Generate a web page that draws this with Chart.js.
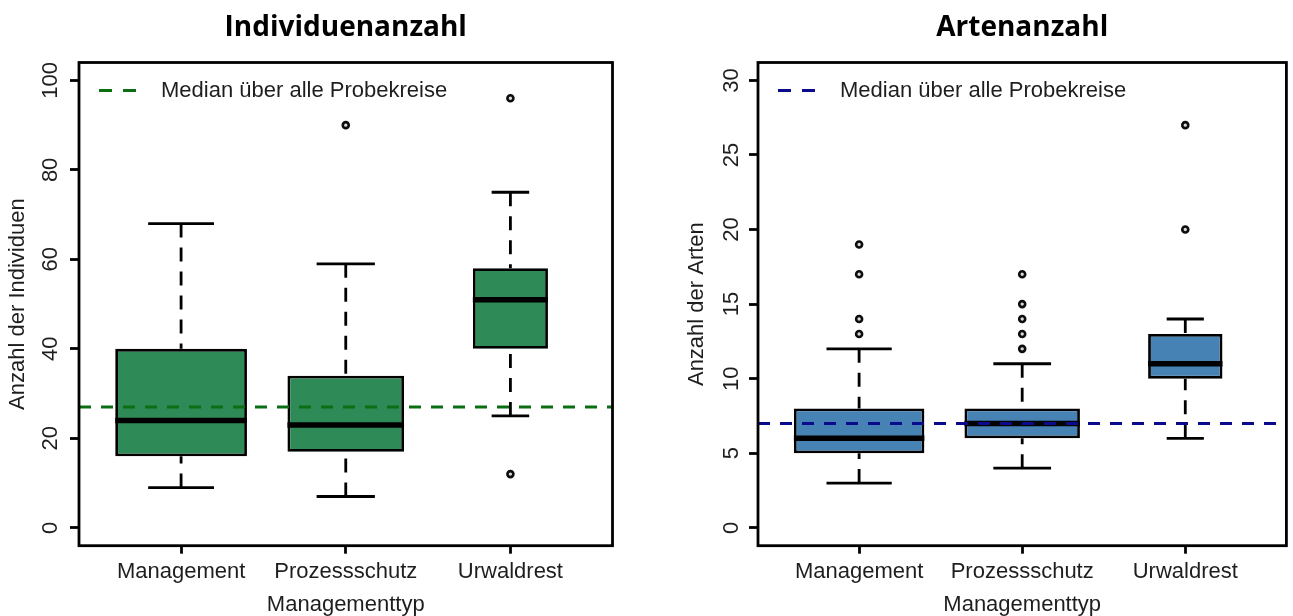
<!DOCTYPE html>
<html lang="de">
<head>
<meta charset="utf-8">
<title>Individuen- und Artenanzahl nach Managementtyp</title>
<script src="https://cdn.jsdelivr.net/npm/chart.js@4/dist/chart.umd.min.js"></script>
<style>
  html, body { margin: 0; padding: 0; background: #fff; overflow: hidden; }
  #wrap { position: relative; width: 1293px; height: 616px; background: #fff; }
  canvas { position: absolute; top: 0; }
  #cInd { left: 0; }
  #cArt { left: 679px; }
</style>
</head>
<body>
<div id="wrap">
  <canvas id="cInd" width="679" height="616"></canvas>
  <canvas id="cArt" width="614" height="616"></canvas>
</div>
<script>
// ---- data -------------------------------------------------------------
const categories = ['Management', 'Prozessschutz', 'Urwaldrest'];

// Individuenanzahl: whisker ends, quartiles and medians per Managementtyp
const indLower    = [9, 7, 25];
const indQ1       = [16, 17, 40];
const indMedian   = [24, 23, 51];
const indQ3       = [40, 34, 58];
const indUpper    = [68, 59, 75];
const indOutliers = [[], [90], [96, 12]];
const indOverallMedian = 27;
const indTicks    = [0, 20, 40, 60, 80, 100];

// Artenanzahl
const artLower    = [3, 4, 6];
const artQ1       = [5, 6, 10];
const artMedian   = [6, 7, 11];
const artQ3       = [8, 8, 13];
const artUpper    = [12, 11, 14];
const artOutliers = [[13, 14, 17, 19], [12, 13, 14, 15, 17], [20, 27]];
const artOverallMedian = 7;
const artTicks    = [0, 5, 10, 15, 20, 25, 30];

const legendLabel = 'Median über alle Probekreise';
const xTitle = 'Managementtyp';

// ---- style ------------------------------------------------------------
const FONT = '"Liberation Sans", Arial, Helvetica, sans-serif';
const TITLE_FONT = '"Open Sans", "Liberation Sans", Arial, sans-serif';
const TEXT = '#1e1e1e';
const boxWidthShare = [1, 0.885, 0.57];   // variable box widths (relative)
const LINE_W = 2.8;
const WHISKER_DASH = [14, 10];
const MEDIAN_DASH = [12, 10];

Chart.defaults.font.family = FONT;

// whiskers, staples and median bar, drawn right after each box
const boxParts = {
  id: 'boxParts',
  afterDatasetDraw(chart, args, opts) {
    const ds = chart.data.datasets[args.index];
    if (ds.boxOf === undefined) return;
    const i = ds.boxOf;
    const el = args.meta.data[0];
    const ys = chart.scales.y;
    const ctx = chart.ctx;
    const x = el.x, half = el.width / 2;
    ctx.save();
    ctx.strokeStyle = '#000';
    ctx.lineWidth = LINE_W;
    ctx.lineCap = 'butt';
    ctx.setLineDash(WHISKER_DASH);
    [[opts.upper[i], opts.q3[i]], [opts.lower[i], opts.q1[i]]].forEach(([from, to]) => {
      ctx.beginPath();
      ctx.moveTo(x, ys.getPixelForValue(from));
      ctx.lineTo(x, ys.getPixelForValue(to));
      ctx.stroke();
    });
    ctx.setLineDash([]);
    [opts.upper[i], opts.lower[i]].forEach(v => {
      const py = ys.getPixelForValue(v);
      ctx.beginPath();
      ctx.moveTo(x - half / 2, py);
      ctx.lineTo(x + half / 2, py);
      ctx.stroke();
    });
    ctx.lineWidth = 5.5;
    const pm = ys.getPixelForValue(opts.median[i]);
    ctx.beginPath();
    ctx.moveTo(x - half, pm);
    ctx.lineTo(x + half, pm);
    ctx.stroke();
    ctx.restore();
  }
};

// plot frame and the in-plot legend for the overall median line
const frameAndLegend = {
  id: 'frameAndLegend',
  afterDraw(chart) {
    const { ctx, chartArea: a } = chart;
    ctx.save();
    ctx.strokeStyle = '#000';
    ctx.lineWidth = LINE_W;
    ctx.strokeRect(a.left, a.top, a.right - a.left, a.bottom - a.top);
    const line = chart.data.datasets.find(d => d.type === 'line');
    const ly = a.top + 28;
    ctx.strokeStyle = line.borderColor;
    ctx.lineWidth = line.borderWidth;
    ctx.setLineDash([13, 11]);
    ctx.beginPath();
    ctx.moveTo(a.left + 20, ly);
    ctx.lineTo(a.left + 60, ly);
    ctx.stroke();
    ctx.setLineDash([]);
    ctx.fillStyle = TEXT;
    ctx.font = '22px ' + FONT;
    ctx.textBaseline = 'middle';
    ctx.textAlign = 'left';
    ctx.fillText(line.label, a.left + 82, ly);
    ctx.restore();
  }
};

// centre the chart title over the plot area rather than the whole canvas
const centreTitle = {
  id: 'centreTitle',
  afterLayout(chart) {
    const t = chart.titleBlock;
    if (!t) return;
    t.left = chart.chartArea.left;
    t.right = chart.chartArea.right;
    t.width = t.right - t.left;
  }
};

function drawPanel(canvasId, s) {
  const n = categories.length;
  const xMin = 0.5 - 0.04 * n, xMax = n + 0.5 + 0.04 * n;
  const t0 = s.ticks[0], t1 = s.ticks[s.ticks.length - 1];
  const yMin = t0 - 0.04 * (t1 - t0), yMax = t1 + 0.04 * (t1 - t0);

  const boxes = categories.map((c, i) => ({
    type: 'bar',
    label: c,
    boxOf: i,
    data: [{ x: i + 1, y: [s.q1[i], s.q3[i]] }],
    backgroundColor: s.fill,
    borderColor: '#000',
    borderWidth: LINE_W,
    borderSkipped: false,
    grouped: false,
    categoryPercentage: 0.8,
    barPercentage: boxWidthShare[i],
    order: 2
  }));

  const outliers = {
    type: 'scatter',
    label: 'Ausreißer',
    data: s.outliers.flatMap((vals, i) => vals.map(v => ({ x: i + 1, y: v }))),
    pointRadius: 3,
    pointBorderWidth: 2.6,
    pointBorderColor: '#0d0d0d',
    pointBackgroundColor: '#d8d8d8',
    order: 1
  };

  const medianLine = {
    type: 'line',
    label: legendLabel,
    data: [{ x: xMin, y: s.overall }, { x: xMax, y: s.overall }],
    borderColor: s.lineColor,
    borderWidth: 3,
    borderDash: MEDIAN_DASH,
    pointRadius: 0,
    fill: false,
    order: 0
  };

  const tickFont = { family: FONT, size: 22 };

  new Chart(document.getElementById(canvasId), {
    type: 'bar',
    data: { datasets: [...boxes, outliers, medianLine] },
    options: {
      responsive: false,
      animation: false,
      devicePixelRatio: 1,
      layout: { padding: { left: 0, right: s.padRight, top: 0, bottom: 0 } },
      plugins: {
        legend: { display: false },
        tooltip: { enabled: false },
        title: {
          display: true,
          text: s.title,
          color: '#000',
          font: { family: TITLE_FONT, size: 28, weight: 'bold', lineHeight: 1.2 },
          padding: { top: 11, bottom: 17.9 }
        },
        boxParts: { lower: s.lower, q1: s.q1, median: s.median, q3: s.q3, upper: s.upper }
      },
      scales: {
        x: {
          type: 'linear',
          min: xMin,
          max: xMax,
          bounds: 'data',
          offset: false,
          afterBuildTicks: sc => { sc.ticks = categories.map((c, i) => ({ value: i + 1 })); },
          afterFit: sc => { sc.height = 70.3; },
          grid: { display: true, offset: false, drawOnChartArea: false, drawTicks: true,
                  tickLength: 8, tickWidth: LINE_W, tickColor: '#000' },
          border: { display: false },
          ticks: { autoSkip: false, minRotation: 0, maxRotation: 0, padding: 4.8,
                   color: TEXT, font: tickFont, callback: (v, i) => categories[i] },
          title: { display: true, text: xTitle, color: TEXT,
                   font: { family: FONT, size: 22, lineHeight: 1 }, padding: { top: 0, bottom: 0 } }
        },
        y: {
          type: 'linear',
          min: yMin,
          max: yMax,
          bounds: 'data',
          afterBuildTicks: sc => { sc.ticks = s.ticks.map(v => ({ value: v })); },
          afterFit: sc => { sc.width = 79; },
          grid: { display: true, drawOnChartArea: false, drawTicks: true,
                  tickLength: 9, tickWidth: LINE_W, tickColor: '#000' },
          border: { display: false },
          ticks: { minRotation: 90, maxRotation: 90, crossAlign: 'center', padding: s.tickPad,
                   color: TEXT, font: tickFont, callback: v => String(v) },
          title: { display: true, text: s.yTitle, color: TEXT,
                   font: { family: FONT, size: 22, lineHeight: 1 }, padding: { top: 7.4, bottom: 0 } }
        }
      }
    },
    plugins: [boxParts, frameAndLegend, centreTitle]
  });
}

drawPanel('cInd', {
  title: 'Individuenanzahl',
  yTitle: 'Anzahl der Individuen',
  lower: indLower, q1: indQ1, median: indMedian, q3: indQ3, upper: indUpper,
  outliers: indOutliers, overall: indOverallMedian, ticks: indTicks,
  fill: '#2E8B57', lineColor: '#0b6e12',
  padRight: 66.5, tickPad: 1
});

drawPanel('cArt', {
  title: 'Artenanzahl',
  yTitle: 'Anzahl der Arten',
  lower: artLower, q1: artQ1, median: artMedian, q3: artQ3, upper: artUpper,
  outliers: artOutliers, overall: artOverallMedian, ticks: artTicks,
  fill: '#4682B4', lineColor: '#0a0a8c',
  padRight: 2.5, tickPad: 5
});
</script>
</body>
</html>
